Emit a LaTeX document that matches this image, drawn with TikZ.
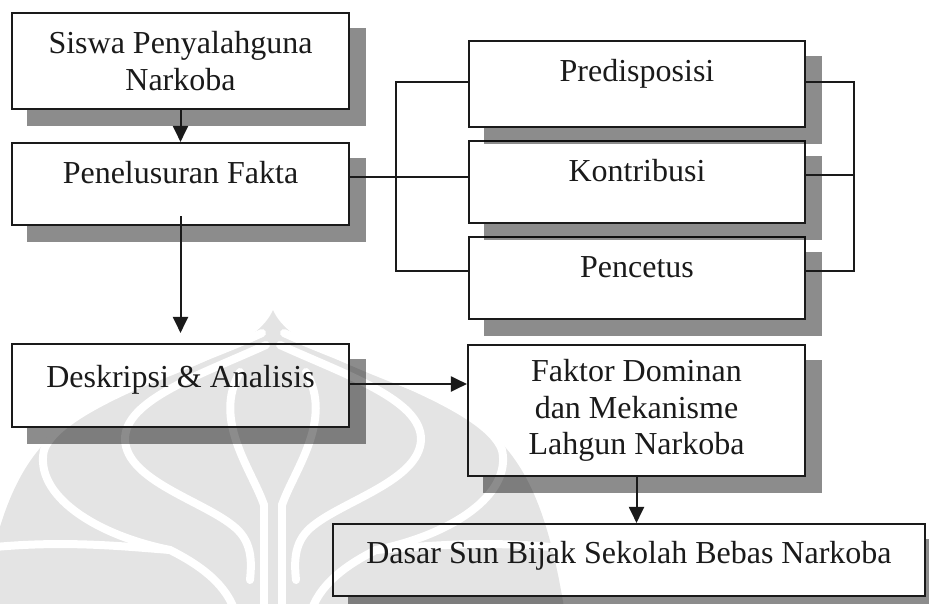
\documentclass[tikz,border=0pt]{standalone}
\usepackage{fontspec}
\setmainfont{Liberation Serif}
\usetikzlibrary{arrows.meta}
\definecolor{ink}{RGB}{26,26,26}
\definecolor{wmgrey}{RGB}{228,228,228}
\newcommand\wmhalf{%
  \draw[wmgap] (262,333) .. controls (200,362) and (60,405) .. (44,450) .. controls (34,495) and (95,535) .. (170,550);
  \draw[wmgap] (-15,548) .. controls (60,540) and (120,546) .. (170,550);
  \draw[wmgap] (170,550) .. controls (200,565) and (228,585) .. (236,615);
  \draw[wmgap] (266,345) .. controls (200,375) and (124,400) .. (125,440) .. controls (127,480) and (200,500) .. (232,525) .. controls (252,540) and (252,560) .. (250,580);
  \draw[wmgap] (240,372) .. controls (212,420) and (252,470) .. (264,505);
  \draw[wmgap] (264,505) -- (264,615);
}
\newcommand\boxshadow[1]{%
  \fill[shad] ([yshift=-16pt]#1.north east) rectangle ([xshift=16pt,yshift=-16pt]#1.south east);
  \fill[shad] ([xshift=16pt]#1.south west) rectangle ([yshift=-16pt]#1.south east);
}
\begin{document}
\begin{tikzpicture}[x=1pt,y=-1pt,
  box/.style={draw=ink, line width=2.1pt, rectangle, inner sep=0pt,
    font=\fontsize{32}{36.8}\selectfont, text=ink, align=center},
  shad/.style={fill=black, fill opacity=0.45},
  ln/.style={draw=ink, line width=2pt},
  arr/.style={ln, -{Triangle[length=16pt,width=15pt]}},
  wmfill/.style={fill=wmgrey},
  wmgap/.style={draw=white, line width=8pt, line cap=round}]
\useasboundingbox (0,0) rectangle (929,604);
\clip (0,0) rectangle (929,604);
% faint watermark behind the diagram
\fill[wmfill] (273,310) .. controls (258,345) and (190,368) .. (110,400) .. controls (30,432) and (0,490) .. (-20,620) -- (566,620) .. controls (546,490) and (516,432) .. (436,400) .. controls (356,368) and (288,345) .. (273,310) -- cycle;
\wmhalf
\begin{scope}[xshift=546pt, xscale=-1]
  \wmhalf
\end{scope}
% left column
\node[box, minimum width=337pt, minimum height=96pt] (b1) at (180.5,61) {Siswa Penyalahguna\\Narkoba};
\node[box, minimum width=337pt, text height=41pt, text depth=41pt] (b2) at (180.5,184) {Penelusuran Fakta};
\node[box, minimum width=337pt, text height=43pt, text depth=40pt] (b3) at (180.5,385.5) {Deskripsi \& Analisis};
% right column
\node[box, minimum width=336pt, text height=41pt, text depth=45pt] (p1) at (637,84) {Predisposisi};
\node[box, minimum width=336pt, text height=41pt, text depth=41pt] (p2) at (637,182) {Kontribusi};
\node[box, minimum width=336pt, text height=40pt, text depth=42pt] (p3) at (637,278) {Pencetus};
\node[box, minimum width=337pt, minimum height=131pt] (f) at (636.5,410.5) {Faktor Dominan\\dan Mekanisme\\Lahgun Narkoba};
\node[box, minimum width=592pt, text height=39pt, text depth=33pt] (d) at (629,560) {Dasar Sun Bijak Sekolah Bebas Narkoba};
% shadows
\boxshadow{b1}\boxshadow{b2}\boxshadow{b3}
\boxshadow{p1}\boxshadow{p2}\boxshadow{p3}
\boxshadow{f}\boxshadow{d}
% connectors
\draw[arr] (b1) -- (b2);
\draw[arr, shorten <=-10pt, shorten >=10pt] (b2.south) -- (b3.north);
\draw[arr] ([yshift=1.5pt]b3.east) -- ([yshift=1.5pt]b3.east -| f.west);
\draw[arr] (f.south) -- (f.south |- d.north);
\draw[ln] ([yshift=7pt]b2.east) -- ([yshift=7pt]b2.east -| p2.west);
\draw[ln] ([yshift=2pt]p1.west) -- ++(-72,0) |- ([yshift=7pt]p3.west);
\draw[ln] ([yshift=2pt]p1.east) -- ++(48,0) |- ([yshift=7pt]p3.east);
\draw[ln] ([yshift=7pt]p2.east) -- ++(48,0);
\end{tikzpicture}
\end{document}
